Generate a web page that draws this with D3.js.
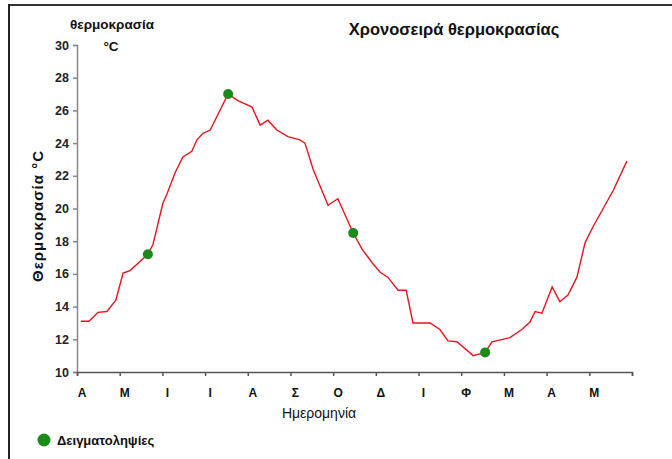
<!DOCTYPE html>
<html>
<head>
<meta charset="utf-8">
<script src="https://cdn.jsdelivr.net/npm/d3@7"></script>
<style>
  body { margin: 0; background: #fff; }
  text { font-family: "Liberation Sans", Arial, sans-serif; }
</style>
</head>
<body>
<div id="chart"></div>
<script>
// chart size
const width = 672;
const height = 459;
const margin = {left: 77, right: 40, top: 45, bottom: 87};

// month labels on the x axis
const months = ['Α', 'Μ', 'Ι', 'Ι', 'Α', 'Σ', 'Ο', 'Δ', 'Ι', 'Φ', 'Μ', 'Α', 'Μ'];
const yTicks = [10, 12, 14, 16, 18, 20, 22, 24, 26, 28, 30];

// temperature series (x in months from start, value in °C)
const tMonth = [0.09, 0.28, 0.49, 0.70, 0.91, 1.08, 1.24, 1.45, 1.66, 1.78, 2.01, 2.11, 2.30, 2.48, 2.69, 2.81, 2.95, 3.12,
  3.54, 3.77, 4.10, 4.29, 4.47, 4.68, 4.94, 5.22, 5.34, 5.53, 5.88, 6.11, 6.47, 6.68, 6.91, 7.10, 7.28, 7.52, 7.71,
  7.87, 8.27, 8.50, 8.69, 8.90, 9.28, 9.56, 9.72, 10.14, 10.42, 10.61, 10.73, 10.89, 11.13, 11.31, 11.50, 11.71,
  11.90, 12.09, 12.56, 12.88];
const tValue = [13.1, 13.1, 13.65, 13.7, 14.4, 16.05, 16.2, 16.7, 17.2, 17.8, 20.3, 20.9, 22.2, 23.15, 23.5, 24.2, 24.6, 24.8,
  27.0, 26.6, 26.2, 25.1, 25.4, 24.8, 24.4, 24.2, 24.0, 22.4, 20.2, 20.6, 18.5, 17.5, 16.7, 16.1, 15.8, 15.0, 15.0,
  13.0, 13.0, 12.6, 11.9, 11.85, 11.0, 11.2, 11.85, 12.1, 12.6, 13.05, 13.7, 13.6, 15.2, 14.3, 14.7, 15.8,
  17.9, 18.9, 21.1, 22.9];

// sampling points
const sMonth = [1.66, 3.54, 6.47, 9.56];
const sValue = [17.2, 27.0, 18.5, 11.2];

const series = tMonth.map((m, i) => ({m: m, v: tValue[i]}));
const samples = sMonth.map((m, i) => ({m: m, v: sValue[i]}));

const svg = d3.select("#chart")
  .append("svg")
  .attr("width", width)
  .attr("height", height);

// frame lines (top and left)
svg.append("line").attr("x1", 9).attr("x2", width).attr("y1", 5).attr("y2", 5)
  .attr("stroke", "#333").attr("stroke-width", 2);
svg.append("line").attr("x1", 9).attr("x2", 9).attr("y1", 4).attr("y2", height)
  .attr("stroke", "#222").attr("stroke-width", 2);

let xScale = d3.scaleLinear()
  .domain([0, 13])
  .range([margin.left, width - margin.right]);

let yScale = d3.scaleLinear()
  .domain([10, 30])
  .range([height - margin.bottom, margin.top]);

// y axis
const yAxis = svg.append("g")
  .attr("transform", `translate(${margin.left},0)`)
  .call(d3.axisLeft(yScale).tickValues(yTicks).tickSize(4).tickPadding(4));
yAxis.selectAll("text").attr("font-size", "12.5px").attr("font-weight", "bold").attr("fill", "#222")
  .attr("font-family", "Liberation Sans, Arial, sans-serif");
yAxis.selectAll("line, path").attr("stroke", "#888").attr("stroke-width", 1.5);

// x axis
const xAxis = svg.append("g")
  .attr("transform", `translate(0,${height - margin.bottom})`)
  .call(d3.axisBottom(xScale).tickValues(d3.range(0, 14)).tickSize(4).tickFormat(""));
xAxis.selectAll("line, path").attr("stroke", "#555").attr("stroke-width", 1.5);

svg.selectAll(".mlabel")
  .data(months)
  .enter()
  .append("text")
    .attr("class", "mlabel")
    .attr("x", (d, i) => xScale(i) + 5)
    .attr("y", height - margin.bottom + 25)
    .attr("text-anchor", "middle")
    .attr("font-size", "12px")
    .attr("font-weight", "bold")
    .attr("fill", "#111")
    .text(d => d);

// temperature line
const line = d3.line()
  .x(d => xScale(d.m))
  .y(d => yScale(d.v));

svg.append("path")
  .datum(series)
  .attr("d", line)
  .attr("fill", "none")
  .attr("stroke", "#e8141e")
  .attr("stroke-width", 1.4);

// sample dots
svg.selectAll(".dot")
  .data(samples)
  .enter()
  .append("circle")
    .attr("class", "dot")
    .attr("cx", d => xScale(d.m))
    .attr("cy", d => yScale(d.v))
    .attr("r", 5)
    .attr("fill", "#1a8a1a");

// titles
svg.append("text").attr("x", 454).attr("y", 35).attr("text-anchor", "middle")
  .attr("font-size", "16.5px").attr("font-weight", "bold").attr("fill", "#111")
  .text("Χρονοσειρά θερμοκρασίας");

svg.append("text").attr("x", 112).attr("y", 29).attr("text-anchor", "middle")
  .attr("font-size", "13.5px").attr("font-weight", "bold").attr("fill", "#111")
  .text("θερμοκρασία");
svg.append("text").attr("x", 111).attr("y", 51).attr("text-anchor", "middle")
  .attr("font-size", "13.5px").attr("font-weight", "bold").attr("fill", "#111")
  .text("°C");

svg.append("text")
  .attr("transform", "translate(43,216) rotate(-90)")
  .attr("text-anchor", "middle")
  .attr("font-size", "15px").attr("font-weight", "bold").attr("fill", "#111")
  .attr("letter-spacing", "1px")
  .text("Θερμοκρασία °C");

svg.append("text").attr("x", 319).attr("y", 418).attr("text-anchor", "middle")
  .attr("font-size", "14px").attr("fill", "#111")
  .text("Ημερομηνία");

// legend
svg.append("circle").attr("cx", 44).attr("cy", 440).attr("r", 6.5).attr("fill", "#1a8a1a");
svg.append("text").attr("x", 57).attr("y", 445)
  .attr("font-size", "13px").attr("font-weight", "bold").attr("fill", "#111")
  .text("Δειγματοληψίες");
</script>
</body>
</html>
